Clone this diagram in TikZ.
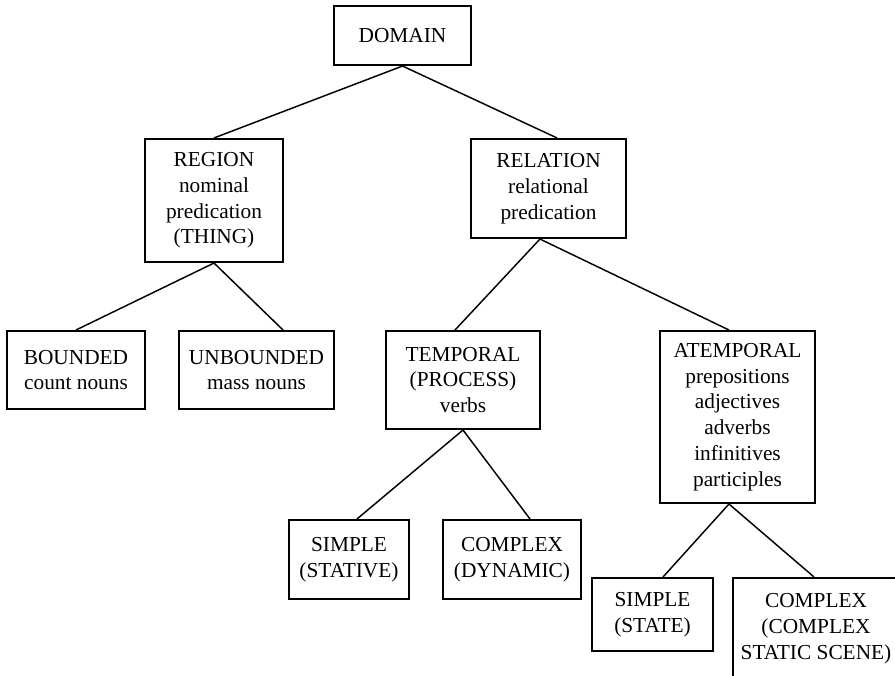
\documentclass[tikz,border=0pt]{standalone}
\usepackage{fontspec}
\setmainfont{Liberation Serif}
\usetikzlibrary{positioning}

\begin{document}
\begin{tikzpicture}[x=0.75pt,y=-0.75pt,
    catbox/.style={draw,line width=1.5pt,inner sep=0pt,align=center,
      font=\fontsize{16}{19.3}\selectfont},
    link/.style={line width=1.1pt}]
  \useasboundingbox (0,0) rectangle (895,675);
  \clip (0,0) rectangle (895,675);

  \node[catbox,minimum width=102.8pt,minimum height=44.3pt] (domain) at (402.5,35.5) {DOMAIN};

  \node[catbox,minimum width=103.5pt,minimum height=92.3pt] (region) at (214,200.5)
    {REGION\\nominal\\predication\\(THING)};
  \node[catbox,minimum width=116.3pt,minimum height=74.3pt] (relation) at (548.5,188.5)
    {RELATION\\relational\\predication};

  \node[catbox,minimum width=103.5pt,minimum height=58.5pt] (bounded) at (76,370)
    {BOUNDED\\count nouns};
  \node[catbox,minimum width=116.3pt,minimum height=58.5pt] (unbounded) at (256.5,370)
    {UNBOUNDED\\mass nouns};
  \node[catbox,minimum width=115.5pt,minimum height=73.5pt] (temporal) at (463,380)
    {TEMPORAL\\(PROCESS)\\verbs};
  \node[catbox,minimum width=116.3pt,minimum height=129pt] (atemporal) at (737.5,417)
    {ATEMPORAL\\prepositions\\adjectives\\adverbs\\infinitives\\participles};

  \node[catbox,minimum width=90pt,minimum height=59.3pt] (simplestat) at (349,559.5)
    {SIMPLE\\(STATIVE)};
  \node[catbox,minimum width=103.5pt,minimum height=59.3pt] (complexdyn) at (512,559.5)
    {COMPLEX\\(DYNAMIC)};
  \node[catbox,minimum width=90.8pt,minimum height=54.8pt] (simplestate) at (652.5,614.5)
    {SIMPLE\\(STATE)};
  \node[catbox,minimum width=124.5pt,minimum height=75.8pt] (complexscene) at (816,628.5)
    {COMPLEX\\(COMPLEX\\STATIC SCENE)};

  % tree links
  \draw[link] (domain.south) -- (region.north);
  \draw[link] (domain.south) -- ([xshift=6.4pt]relation.north);
  \draw[link] (region.south) -- (bounded.north);
  \draw[link] (region.south) -- ([xshift=19.9pt]unbounded.north);
  \draw[link] ([xshift=-6.4pt]relation.south) -- ([xshift=-6pt]temporal.north);
  \draw[link] ([xshift=-6.4pt]relation.south) -- ([xshift=-6.4pt]atemporal.north);
  \draw[link] (temporal.south) -- ([xshift=6pt]simplestat.north);
  \draw[link] (temporal.south) -- ([xshift=13.5pt]complexdyn.north);
  \draw[link] ([xshift=-6.4pt]atemporal.south) -- ([xshift=7.9pt]simplestate.north);
  \draw[link] ([xshift=-6.4pt]atemporal.south) -- ([xshift=-1.5pt]complexscene.north);
\end{tikzpicture}
\end{document}
